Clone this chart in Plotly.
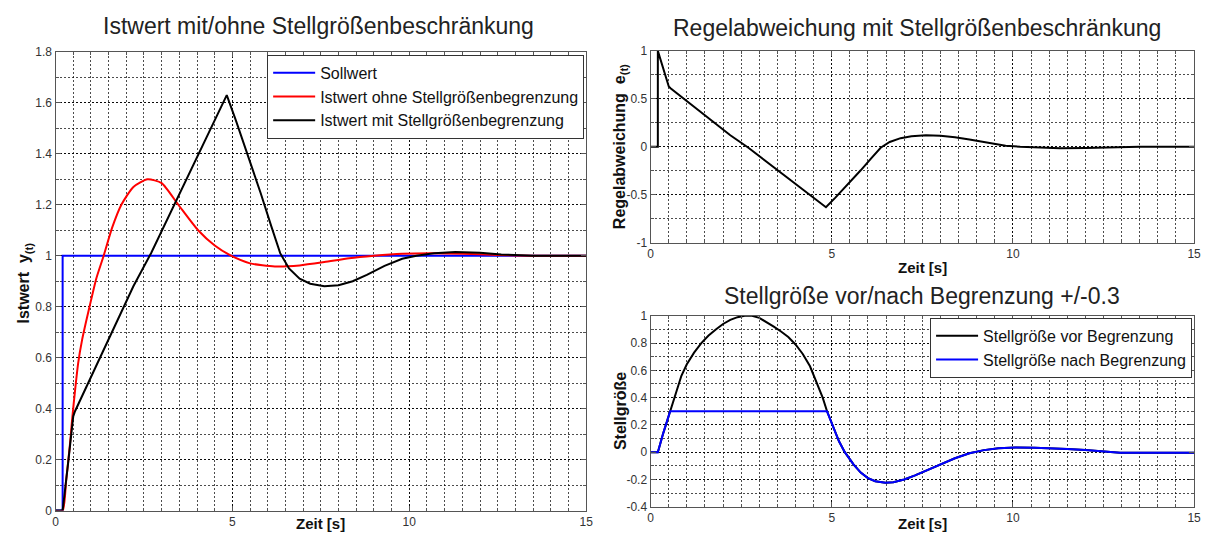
import plotly.graph_objects as go

# ---------------- data ----------------
# Sollwert (set point step)
t_soll = [0, 0.2, 0.2, 15]
w_soll = [0, 0, 1, 1]

# Istwert ohne Stellgrößenbegrenzung
t_ohne = [0, 0.2, 0.3, 0.4, 0.47, 0.55, 0.64, 0.75, 0.86, 0.96, 1.15, 1.36, 1.6, 1.86,
          2.2, 2.6, 3.0, 3.47, 4.03, 4.5, 4.96, 5.5, 6.2, 6.9, 7.6, 8.3, 9.0, 9.8,
          10.6, 11.5, 12.5, 13.5, 15]
y_ohne = [0, 0, 0.12, 0.25, 0.36, 0.47, 0.58, 0.67, 0.74, 0.8, 0.91, 1.0, 1.11, 1.2,
          1.27, 1.3, 1.285, 1.2, 1.1, 1.04, 1.0, 0.97, 0.958, 0.962, 0.975, 0.99, 1.0, 1.008,
          1.01, 1.008, 1.003, 1.0, 1.0]

# Istwert mit Stellgrößenbegrenzung
t_mit = [0, 0.2, 0.35, 0.5, 0.55, 0.95, 1.32, 1.74, 2.2, 2.7, 3.2, 3.7, 4.2, 4.6, 4.84,
         5.1, 5.4, 5.8, 6.1, 6.35, 6.6, 6.9, 7.2, 7.6, 8.0, 8.4, 8.8, 9.3, 9.8, 10.2,
         10.7, 11.3, 12.0, 12.6, 13.5, 15]
y_mit = [0, 0, 0.18, 0.37, 0.39, 0.51, 0.62, 0.745, 0.88, 1.01, 1.155, 1.3, 1.445, 1.56, 1.63,
         1.53, 1.41, 1.245, 1.115, 1.01, 0.95, 0.91, 0.89, 0.88, 0.884, 0.9, 0.925, 0.96, 0.988, 1.0,
         1.01, 1.015, 1.012, 1.005, 1.0, 1.0]

# Regelabweichung mit Stellgrößenbeschränkung
t_err = [0, 0.2, 0.2, 0.35, 0.5, 0.55, 0.95, 1.32, 1.74, 2.2, 2.7, 3.2, 3.7, 4.2, 4.6, 4.84,
         5.1, 5.4, 5.8, 6.1, 6.35, 6.6, 6.9, 7.2, 7.6, 8.0, 8.4, 8.8, 9.3, 9.8, 10.2,
         10.7, 11.3, 12.0, 12.6, 13.5, 15]
e_err = [0, 0, 1, 0.82, 0.63, 0.61, 0.49, 0.38, 0.255, 0.12, -0.01, -0.155, -0.3, -0.445, -0.56, -0.63,
         -0.53, -0.41, -0.245, -0.115, -0.01, 0.05, 0.09, 0.11, 0.12, 0.116, 0.1, 0.075, 0.04, 0.012, 0.0,
         -0.01, -0.015, -0.012, -0.005, 0.0, 0.0]

# Stellgröße vor Begrenzung
t_vor = [0, 0.2, 0.35, 0.54, 0.7, 0.85, 1.0, 1.2, 1.4, 1.6, 1.8, 2.0, 2.2, 2.4, 2.6, 2.8,
         3.0, 3.2, 3.4, 3.6, 3.8, 4.0, 4.2, 4.4, 4.6, 4.75, 4.87, 5.0, 5.2, 5.36, 5.6,
         5.8, 6.0, 6.2, 6.48, 6.7, 7.0, 7.3, 7.6, 8.0, 8.4, 8.8, 9.2, 9.6, 10.07, 10.6,
         11.0, 11.5, 12.0, 12.5, 12.96, 15]
u_vor = [0, 0, 0.14, 0.3, 0.45, 0.56, 0.645, 0.73, 0.8, 0.855, 0.9, 0.94, 0.97, 0.99, 1.0, 1.0,
         0.985, 0.955, 0.92, 0.885, 0.845, 0.79, 0.72, 0.63, 0.5, 0.4, 0.3, 0.21, 0.08, 0.0, -0.09,
         -0.15, -0.19, -0.213, -0.225, -0.22, -0.2, -0.17, -0.135, -0.09, -0.045, -0.008, 0.015, 0.028, 0.035, 0.033,
         0.03, 0.024, 0.016, 0.005, -0.004, -0.005]

# Stellgröße nach Begrenzung (+/-0.3)
t_nach = [0, 0.2, 0.35, 0.54, 4.87, 5.0, 5.2, 5.36, 5.6, 5.8, 6.0, 6.2, 6.48, 6.7, 7.0, 7.3,
          7.6, 8.0, 8.4, 8.8, 9.2, 9.6, 10.07, 10.6, 11.0, 11.5, 12.0, 12.5, 12.96, 15]
u_nach = [0, 0, 0.14, 0.3, 0.3, 0.21, 0.08, 0.0, -0.09, -0.15, -0.19, -0.213, -0.225, -0.22, -0.2, -0.17,
          -0.135, -0.09, -0.045, -0.008, 0.015, 0.028, 0.035, 0.033, 0.03, 0.024, 0.016, 0.005, -0.004, -0.005]

x_ticks = [0, 5, 10, 15]
x_text = ["0", "5", "10", "15"]
y1_ticks = [0, 0.2, 0.4, 0.6, 0.8, 1, 1.2, 1.4, 1.6, 1.8]
y1_text = ["0", "0.2", "0.4", "0.6", "0.8", "1", "1.2", "1.4", "1.6", "1.8"]
y2_ticks = [-1, -0.5, 0, 0.5, 1]
y2_text = ["-1", "-0.5", "0", "0.5", "1"]
y3_ticks = [-0.4, -0.2, 0, 0.2, 0.4, 0.6, 0.8, 1]
y3_text = ["-0.4", "-0.2", "0", "0.2", "0.4", "0.6", "0.8", "1"]

# ---------------- figure ----------------
W, H = 1208, 541
FONT = "Liberation Sans, Arial, sans-serif"
BLUE, RED, BLACK = "#0000ff", "#ff0000", "#000000"
LW = 2

fig = go.Figure()

fig.add_trace(go.Scatter(x=t_soll, y=w_soll, mode="lines", name="Sollwert",
                         line=dict(color=BLUE, width=LW), xaxis="x", yaxis="y", legend="legend"))
fig.add_trace(go.Scatter(x=t_ohne, y=y_ohne, mode="lines", name="Istwert ohne Stellgrößenbegrenzung",
                         line=dict(color=RED, width=LW, shape="spline", smoothing=0.6),
                         xaxis="x", yaxis="y", legend="legend"))
fig.add_trace(go.Scatter(x=t_mit, y=y_mit, mode="lines", name="Istwert mit Stellgrößenbegrenzung",
                         line=dict(color=BLACK, width=LW), xaxis="x", yaxis="y", legend="legend"))

fig.add_trace(go.Scatter(x=t_err, y=e_err, mode="lines", showlegend=False,
                         line=dict(color=BLACK, width=LW), xaxis="x2", yaxis="y2"))

fig.add_trace(go.Scatter(x=t_vor, y=u_vor, mode="lines", name="Stellgröße vor Begrenzung",
                         line=dict(color=BLACK, width=LW), xaxis="x3", yaxis="y3", legend="legend2"))
fig.add_trace(go.Scatter(x=t_nach, y=u_nach, mode="lines", name="Stellgröße nach Begrenzung",
                         line=dict(color=BLUE, width=LW), xaxis="x3", yaxis="y3", legend="legend2"))


def axis(domain, rng, tickvals, ticktext, minor_dtick, anchor):
    return dict(
        domain=domain, range=rng, anchor=anchor, tickmode="array",
        tickvals=tickvals, ticktext=ticktext,
        showline=True, linecolor="#555", linewidth=1.2, mirror="ticks",
        ticks="inside", ticklen=5, tickcolor="#555",
        showgrid=True, gridcolor="rgba(0,0,0,0.85)", gridwidth=1, griddash="2px,2px",
        zeroline=False, fixedrange=True,
        tickfont=dict(family=FONT, size=12, color="#333"),
        minor=dict(dtick=minor_dtick, tick0=0, showgrid=True, gridcolor="rgba(0,0,0,0.7)",
                   gridwidth=1, griddash="2px,2px", ticks="inside", ticklen=3, tickcolor="#555"),
    )


def px_x(p):
    return p / W


def px_y(p):
    return 1 - p / H


dom_left_x = [px_x(53), px_x(588)]
dom_left_y = [px_y(517), px_y(46)]
dom_right_x = [px_x(653), px_x(1201)]
dom_rt_y = [px_y(242), px_y(45)]
dom_rb_y = [px_y(513), px_y(317)]

fig.update_layout(
    width=W, height=H, autosize=False,
    margin=dict(l=0, r=0, t=0, b=0),
    paper_bgcolor="white", plot_bgcolor="white",
    font=dict(family=FONT, color="#111"),
    xaxis=axis(dom_left_x, [0, 15], x_ticks, x_text, 0.5, "y"),
    yaxis=axis(dom_left_y, [0, 1.8], y1_ticks, y1_text, 0.1, "x"),
    xaxis2=axis(dom_right_x, [0, 15], x_ticks, x_text, 0.5, "y2"),
    yaxis2=axis(dom_rt_y, [-1, 1], y2_ticks, y2_text, 0.25, "x2"),
    xaxis3=axis(dom_right_x, [0, 15], x_ticks, x_text, 0.5, "y3"),
    yaxis3=axis(dom_rb_y, [-0.4, 1], y3_ticks, y3_text, 0.1, "x3"),
    legend=dict(x=px_x(586), y=px_y(49), xanchor="right", yanchor="top",
                bgcolor="white", bordercolor="#333", borderwidth=1, itemwidth=42,
                font=dict(family=FONT, size=16, color="#111"), tracegroupgap=0),
    legend2=dict(x=px_x(1199), y=px_y(319), xanchor="right", yanchor="top",
                 bgcolor="white", bordercolor="#333", borderwidth=1, itemwidth=42,
                 font=dict(family=FONT, size=16, color="#111"), tracegroupgap=0),
)

ann = []
# plot titles
for text, cx, cy in [
    ("Istwert mit/ohne Stellgrößenbeschränkung", 318, 20),
    ("Regelabweichung mit Stellgrößenbeschränkung", 922, 22),
    ("Stellgröße vor/nach Begrenzung +/-0.3", 927, 297),
]:
    ann.append(dict(text=text, x=px_x(cx), y=px_y(cy), xref="paper", yref="paper",
                    showarrow=False, xanchor="center", yanchor="middle",
                    font=dict(family=FONT, size=23, color="#222")))
# x axis titles
for cx, cy in [(320, 530), (927, 267), (927, 530)]:
    ann.append(dict(text="<b>Zeit [s]</b>", x=px_x(cx), y=px_y(cy), xref="paper", yref="paper",
                    showarrow=False, xanchor="center", yanchor="middle",
                    font=dict(family=FONT, size=15, color="#111")))
# y axis titles
for text, cx, cy in [
    ("<b>Istwert  y<sub>(t)</sub></b>", 22, 283),
    ("<b>Regelabweichung  e<sub>(t)</sub></b>", 622, 143),
    ("<b>Stellgröße</b>", 622, 415),
]:
    ann.append(dict(text=text, x=px_x(cx), y=px_y(cy), xref="paper", yref="paper",
                    showarrow=False, xanchor="center", yanchor="middle", textangle=-90,
                    font=dict(family=FONT, size=16, color="#111")))
fig.update_layout(annotations=ann)

fig.write_html("out.html")
